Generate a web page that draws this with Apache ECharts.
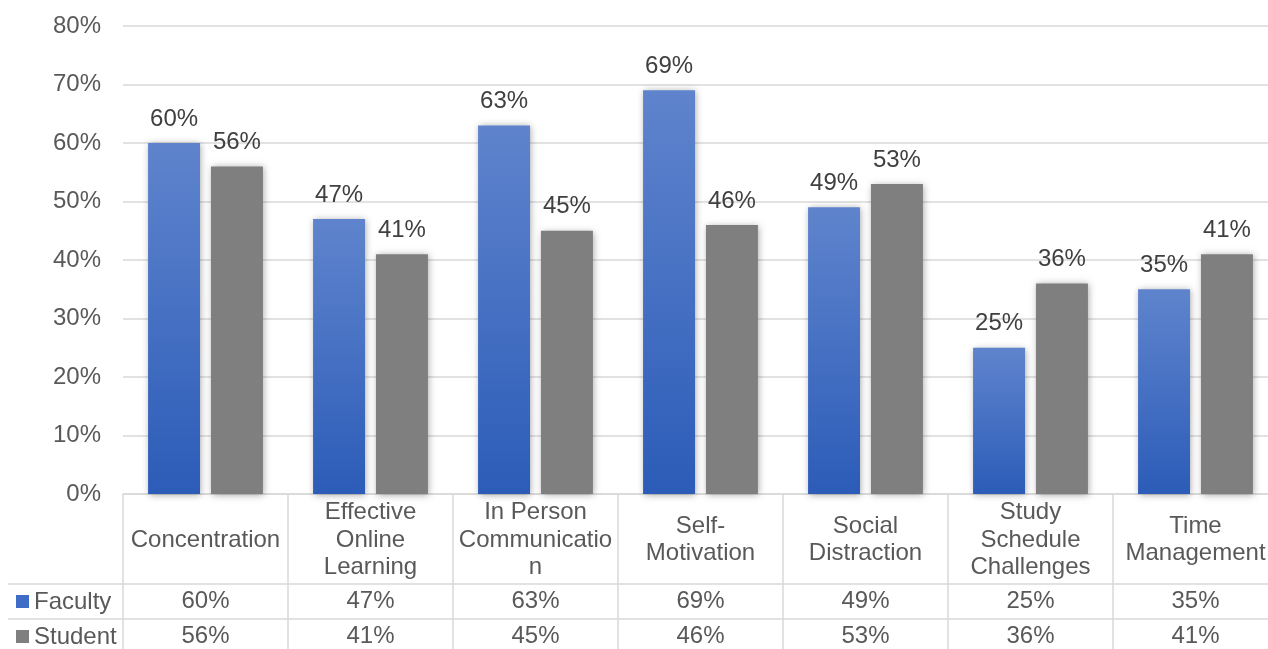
<!DOCTYPE html>
<html>
<head>
<meta charset="utf-8">
<script src="https://cdn.jsdelivr.net/npm/echarts@6/dist/echarts.min.js"></script>
<style>
html,body{margin:0;padding:0;background:#fff;}
#chart{width:1268px;height:649px;}
</style>
</head>
<body>
<div id="chart"></div>
<script>
var categories = ['Concentration','Effective Online Learning','In Person Communication','Self-Motivation','Social Distraction','Study Schedule Challenges','Time Management'];
var tickLabels = ['Concentration','Effective\nOnline\nLearning','In Person\nCommunicatio\nn','Self-\nMotivation','Social\nDistraction','Study\nSchedule\nChallenges','Time\nManagement'];
var seriesNames = ['Faculty','Student'];
var faculty = [60,47,63,69,49,25,35];
var student = [56,41,45,46,53,36,41];
var yTicks = [0,10,20,30,40,50,60,70,80];

var FONT = '"Liberation Sans", Arial, sans-serif';
var TEXT = '#595959';
var LINE = '#d9d9d9';
var BLUE_SQ = '#3f6cc6';
var GRAY = '#7f7f7f';

var tableData = [];
faculty.forEach(function(v,i){ tableData.push([i, seriesNames[0], v]); });
student.forEach(function(v,i){ tableData.push([i, seriesNames[1], v]); });

var chart = echarts.init(document.getElementById('chart'));
chart.setOption({
  animation: false,
  textStyle: {fontFamily: FONT},
  grid: [
    {left: 123, right: -10, top: 26, height: 468, outerBoundsMode: 'none', containLabel: false},
    {left: 123, right: -10, top: 584, height: 70, outerBoundsMode: 'none', containLabel: false}
  ],
  xAxis: [
    {
      type: 'category', gridIndex: 0, data: categories,
      axisLine: {show: true, lineStyle: {color: LINE, width: 1.5}},
      axisTick: {show: true, interval: 0, length: 155, lineStyle: {color: LINE, width: 1.5}},
      axisLabel: {
        interval: 0, fontSize: 24, color: TEXT, fontFamily: FONT,
        lineHeight: 27.5, verticalAlign: 'middle', margin: 46,
        formatter: function(v, i){ return tickLabels[i]; }
      },
      splitLine: {show: false}
    },
    {
      type: 'category', gridIndex: 1, data: categories,
      axisLine: {show: false}, axisTick: {show: false}, axisLabel: {show: false}, splitLine: {show: false}
    }
  ],
  yAxis: [
    {
      type: 'value', gridIndex: 0, min: yTicks[0], max: yTicks[yTicks.length-1], interval: 10,
      axisLine: {show: false}, axisTick: {show: false},
      axisLabel: {fontSize: 24, color: TEXT, fontFamily: FONT, margin: 22, formatter: '{value}%', padding: [2,0,0,0]},
      splitLine: {show: true, lineStyle: {color: LINE, width: 1.5}}
    },
    {
      type: 'category', gridIndex: 1, data: seriesNames, inverse: true,
      axisLine: {show: false},
      axisTick: {show: true, interval: 0, length: 115, lineStyle: {color: LINE, width: 1.5}},
      splitLine: {show: true, interval: 0, lineStyle: {color: LINE, width: 1.5}},
      axisLabel: {
        align: 'left', margin: 107, fontSize: 24, color: TEXT, fontFamily: FONT,
        formatter: function(v){ return (v === seriesNames[0] ? '{f|}' : '{s|}') + '{g|}{t|' + v + '}'; },
        rich: {
          f: {width: 13, height: 13, backgroundColor: BLUE_SQ},
          s: {width: 13, height: 13, backgroundColor: GRAY},
          g: {width: 5},
          t: {fontSize: 24, color: TEXT, fontFamily: FONT, padding: [2,0,0,0]}
        }
      }
    },
    {
      type: 'category', gridIndex: 1, data: seriesNames, inverse: true, offset: 115,
      axisLine: {show: true, lineStyle: {color: LINE, width: 1.5}},
      axisTick: {show: false}, axisLabel: {show: false}, splitLine: {show: false}
    }
  ],
  series: [
    {
      name: seriesNames[0], type: 'bar', xAxisIndex: 0, yAxisIndex: 0, data: faculty,
      barWidth: '31.5%', barGap: '21%',
      itemStyle: {
        color: new echarts.graphic.LinearGradient(0,0,0,1,[{offset:0,color:'#5f84cd'},{offset:1,color:'#2c5cb8'}]),
        shadowBlur: 7, shadowColor: 'rgba(0,0,0,0.35)', shadowOffsetX: 1, shadowOffsetY: 1
      },
      label: {show: true, position: 'top', distance: 12, fontSize: 24, color: '#404040', fontFamily: FONT, formatter: '{c}%'}
    },
    {
      name: seriesNames[1], type: 'bar', xAxisIndex: 0, yAxisIndex: 0, data: student,
      barWidth: '31.5%', barGap: '21%',
      itemStyle: {
        color: GRAY,
        shadowBlur: 7, shadowColor: 'rgba(0,0,0,0.35)', shadowOffsetX: 1, shadowOffsetY: 1
      },
      label: {show: true, position: 'top', distance: 12, fontSize: 24, color: '#404040', fontFamily: FONT, formatter: '{c}%'}
    },
    {
      name: 'table', type: 'scatter', xAxisIndex: 1, yAxisIndex: 1, data: tableData,
      symbolSize: 0, silent: true,
      itemStyle: {color: 'rgba(0,0,0,0)', opacity: 1},
      label: {show: true, position: 'inside', fontSize: 24, color: TEXT, fontFamily: FONT, opacity: 1,
        padding: [2,0,0,0],
        formatter: function(p){ return p.value[2] + '%'; }}
    }
  ]
});
</script>
</body>
</html>
